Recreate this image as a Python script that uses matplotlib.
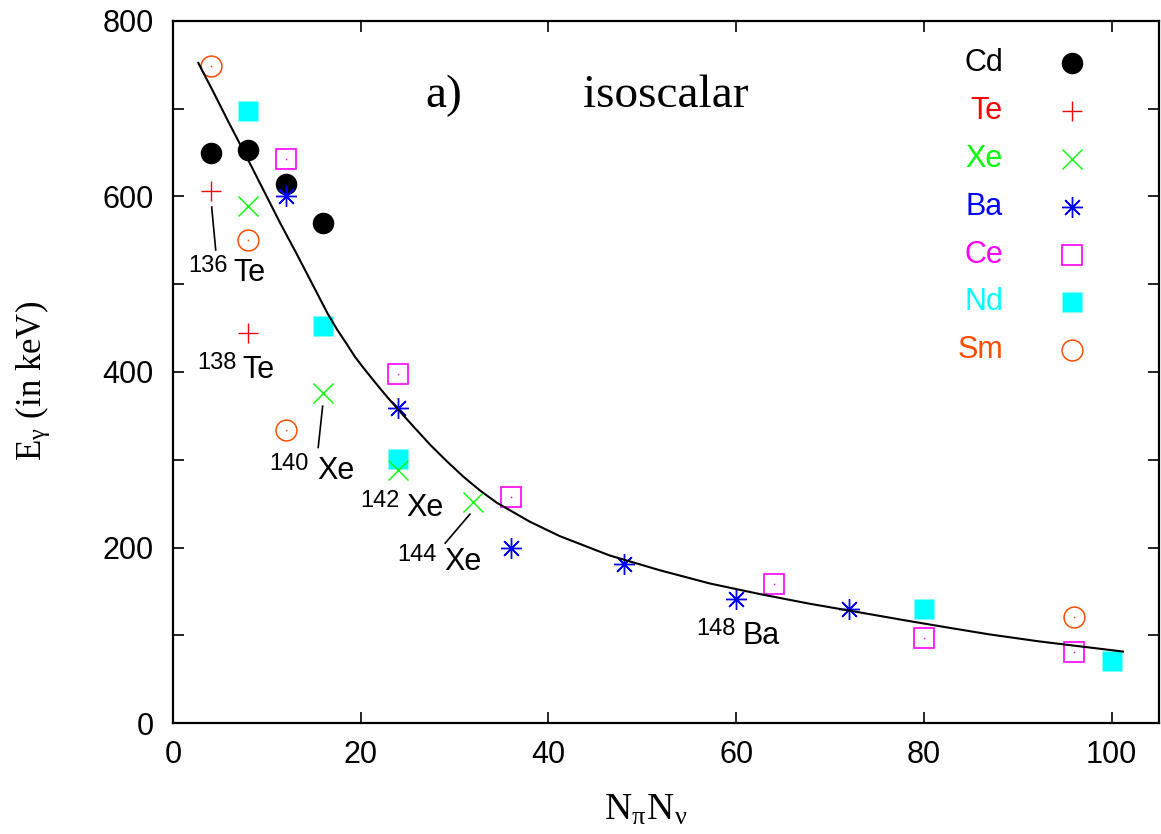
import matplotlib
matplotlib.use('Agg')
import matplotlib.pyplot as plt
from matplotlib.ticker import MultipleLocator

plt.rcParams['font.family'] = ['Liberation Sans', 'DejaVu Sans']
plt.rcParams['mathtext.fontset'] = 'stix'

# data: N_pi*N_nu and E_gamma (keV)
cd_x = [4, 8, 12, 16]
cd_y = [650, 653, 614, 570]
te_x = [4, 8]
te_y = [606, 444]
xe_x = [8, 16, 24, 32]
xe_y = [589, 376, 288, 252]
ba_x = [12, 24, 36, 48, 60, 72]
ba_y = [601, 359, 199, 181, 141, 130]
ce_x = [12, 24, 36, 64, 80, 96]
ce_y = [643, 398, 258, 159, 97, 81]
nd_x = [8, 16, 24, 80, 100]
nd_y = [697, 452, 301, 130, 71]
sm_x = [4, 8, 12, 96]
sm_y = [749, 550, 334, 121]

# fitted curve
fit_x = [2.7, 4.3, 6.0, 7.7, 9.6, 11.4, 13.2, 14.9, 16.5, 17.5, 18.5, 19.4, 20.3,
         21.2, 22.0, 22.9, 23.8, 25.6, 27.4, 29.2, 30.9, 32.7, 34.5, 38.0, 41.2,
         46.5, 51.9, 57.2, 62.5, 67.8, 73.2, 78.0, 83.0, 87.0, 92.3, 97.7, 101.2]
fit_y = [752, 719, 683, 648, 608, 570, 534, 499, 466, 448, 432, 417, 404.5,
         392.5, 382, 370.5, 359.5, 338, 317, 298, 281, 265, 251, 229.5, 213,
         191, 174, 159, 147, 136, 126, 117, 108, 101, 93, 86, 81.5]

# isotope labels: mass number, element, x of mass, x of element, baseline y
labels = [('136', 'Te', 1.6, 6.4, 504), ('138', 'Te', 2.6, 7.35, 393),
          ('140', 'Xe', 10.3, 15.35, 278), ('142', 'Xe', 20.0, 24.9, 236),
          ('144', 'Xe', 23.9, 28.85, 174), ('148', 'Ba', 55.7, 60.7, 90)]
leaders = [([4.12, 4.55], [588, 539]), ([15.94, 15.47], [361, 314]),
           ([31.63, 29.0], [238, 205])]

orange = '#ff4d00'
fig = plt.figure(figsize=(11.61, 8.34), dpi=100)
ax = fig.add_axes([0.149, 0.133, 0.849, 0.842])

ax.plot(nd_x, nd_y, 's', ms=15, mfc='#00ffff', mec='none', zorder=2)
ax.plot(cd_x, cd_y, 'o', ms=14.5, mfc='black', mec='black', zorder=3)
ax.plot(te_x, te_y, '+', ms=15, mec='#ff0000', mew=1, zorder=3)
ax.plot(xe_x, xe_y, 'x', ms=14, mec='#00ff00', mew=1, zorder=3)
ax.plot(ba_x, ba_y, marker=(8, 2, 0), ls='none', ms=15, mec='#0000ff', mew=1, zorder=4)
ax.plot(ba_x, ba_y, 'o', ms=3, mfc='#0000ff', mec='none', zorder=4)
ax.plot(ce_x, ce_y, 's', ms=14.5, mfc='none', mec='#ff00ff', mew=1.2, zorder=4)
ax.plot(ce_x, ce_y, 'o', ms=1.2, mfc='#ff00ff', mec='none', zorder=4)
ax.plot(sm_x, sm_y, 'o', ms=15, mfc='none', mec=orange, mew=1.1, zorder=4)
ax.plot(sm_x, sm_y, 'o', ms=1.2, mfc=orange, mec='none', zorder=4)
ax.plot(fit_x, fit_y, '-', color='black', lw=1.5, zorder=5)

for mass, el, xm, xe, y in labels:
    ax.annotate(mass, (xm, y), xytext=(0, 6.5), textcoords='offset points',
                fontsize=17, ha='left', va='baseline')
    ax.text(xe, y, el, fontsize=22, ha='left', va='baseline')
for lx, ly in leaders:
    ax.plot(lx, ly, '-', color='black', lw=1.2)

# legend drawn gnuplot style
names = ['Cd', 'Te', 'Xe', 'Ba', 'Ce', 'Nd', 'Sm']
colors = ['black', '#ff0000', '#00ff00', '#0000ff', '#ff00ff', '#00ffff', orange]
styles = [dict(marker='o', ms=14.5, mfc='black', mec='black'),
          dict(marker='+', ms=15, mec='#ff0000', mew=1),
          dict(marker='x', ms=14, mec='#00ff00', mew=1),
          dict(marker=(8, 2, 0), ms=15, mec='#0000ff', mew=1),
          dict(marker='s', ms=14.5, mfc='none', mec='#ff00ff', mew=1.2),
          dict(marker='s', ms=15, mfc='#00ffff', mec='none'),
          dict(marker='o', ms=15, mfc='none', mec=orange, mew=1.1)]
for i, (n, c, st) in enumerate(zip(names, colors, styles)):
    yy = 0.940 - i * 0.0682
    ax.text(0.842, yy, n, color=c, fontsize=22, ha='right', va='center', transform=ax.transAxes)
    ax.plot([0.912], [yy], ls='none', transform=ax.transAxes, clip_on=False, **st)

ax.text(0.2556, 0.8775, 'a)', fontsize=34, family='Liberation Serif', transform=ax.transAxes)
ax.text(0.4158, 0.8775, 'isoscalar', fontsize=34, family='Liberation Serif', transform=ax.transAxes)

ax.set_xlim(0, 105)
ax.set_ylim(0, 800)
ax.xaxis.set_major_locator(MultipleLocator(20))
ax.yaxis.set_major_locator(MultipleLocator(200))
ax.yaxis.set_minor_locator(MultipleLocator(100))
ax.tick_params(which='both', direction='in', top=True, right=True, length=8, width=1.2)
ax.tick_params(axis='y', labelsize=22, pad=14)
ax.tick_params(axis='x', labelsize=22, pad=12)
for s in ax.spines.values():
    s.set_linewidth(1.6)

ax.set_xlabel(r'N$_{\mathregular{π}}$N$_{\mathregular{ν}}$', fontsize=27, family='Liberation Serif')
ax.set_ylabel(r'E$_{\mathregular{γ}}$ (in keV)', fontsize=25, family='Liberation Serif')
ax.xaxis.set_label_coords(0.48, -0.1)
ax.yaxis.set_label_coords(-0.122, 0.487)

fig.savefig('out.png', dpi=100)
